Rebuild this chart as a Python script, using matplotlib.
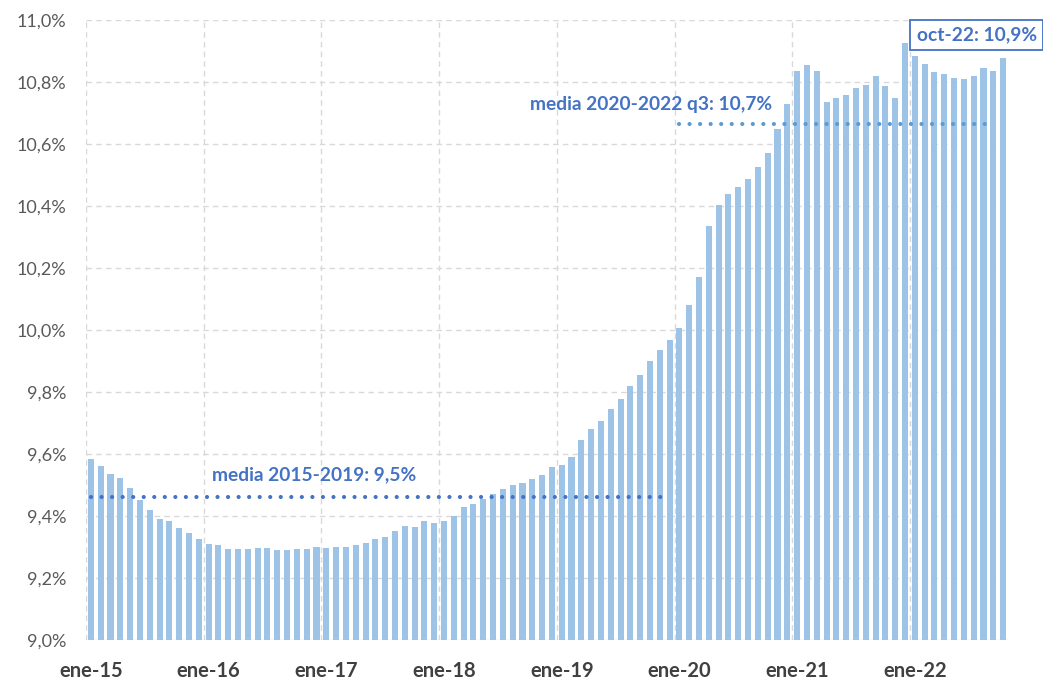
import matplotlib.pyplot as plt
import numpy as np

# ─────────────────────────────────────────────
# DATA  (monthly, ene-15 .. oct-22)
# ─────────────────────────────────────────────

values = [
    9.583, 9.561, 9.536, 9.523, 9.489, 9.452, 9.420, 9.391, 9.383, 9.360, 9.345, 9.327,   # 2015
    9.311, 9.305, 9.295, 9.295, 9.295, 9.297, 9.297, 9.291, 9.290, 9.295, 9.293, 9.299,   # 2016
    9.297, 9.300, 9.300, 9.305, 9.312, 9.325, 9.331, 9.352, 9.367, 9.365, 9.383, 9.378,   # 2017
    9.385, 9.401, 9.430, 9.440, 9.456, 9.470, 9.488, 9.501, 9.506, 9.520, 9.531, 9.559,   # 2018
    9.566, 9.590, 9.645, 9.681, 9.707, 9.746, 9.778, 9.819, 9.854, 9.901, 9.935, 9.969,   # 2019
    10.006, 10.082, 10.171, 10.336, 10.403, 10.440, 10.462, 10.486, 10.527, 10.570, 10.648, 10.730,  # 2020
    10.837, 10.855, 10.837, 10.736, 10.749, 10.759, 10.782, 10.790, 10.819, 10.786, 10.747, 10.927,  # 2021
    10.883, 10.859, 10.833, 10.825, 10.813, 10.810, 10.818, 10.846, 10.835, 10.878,               # 2022
]
year_labels = ["ene-15", "ene-16", "ene-17", "ene-18", "ene-19", "ene-20", "ene-21", "ene-22"]

mean_1519 = 9.462      # media 2015-2019
mean_2022 = 10.666     # media 2020-2022 q3
label_1519 = "media 2015-2019: 9,5%"
label_2022 = "media 2020-2022 q3: 10,7%"
label_last = "oct-22: 10,9%"

# ─────────────────────────────────────────────
# PLOT
# ─────────────────────────────────────────────

plt.rcParams["font.family"] = ["Lato", "DejaVu Sans"]

BAR = "#9DC3E6"
DARK = "#4472C4"
LIGHT = "#5B9BD5"
GRID = "#D9D9D9"
TXT = "#595959"

x = np.arange(len(values))

fig = plt.figure(figsize=(10.43, 6.82), dpi=100)
ax = fig.add_axes([86 / 1043, 1 - 640 / 682, 922 / 1043, 620 / 682])

ax.bar(x, np.array(values) - 9.0, bottom=9.0, width=0.62, color=BAR, zorder=2)

# grid
for yv in np.arange(9.2, 11.01, 0.2):
    ax.axhline(yv, color=GRID, lw=1, ls=(0, (4, 3)), zorder=1)
ax.axhline(9.0, color=GRID, lw=1, zorder=1)
for xv in np.arange(-0.5, len(values), 12):
    ax.axvline(xv, color=GRID, lw=1, ls=(0, (4, 3)), zorder=1)

# mean lines (round dots, ~10.5 px apart)
ax.plot(np.arange(0, 60), [mean_1519] * 60, color=DARK, lw=3.0,
        ls=(0, (0.01, 2.52)), dash_capstyle="round", zorder=3)
ax.plot(np.arange(60, 93), [mean_2022] * 33, color=LIGHT, lw=3.0,
        ls=(0, (0.01, 2.52)), dash_capstyle="round", zorder=3)

ax.text(12.3, mean_1519 + 0.072, label_1519, color=DARK, fontsize=13.8,
        fontweight="bold", va="center", ha="left", zorder=4)
ax.text(44.8, mean_2022 + 0.063, label_2022, color=DARK, fontsize=13.8,
        fontweight="bold", va="center", ha="left", zorder=4)
ax.text(len(values) - 3.7, 10.952, label_last, color=DARK, fontsize=13.8,
        fontweight="bold", va="center", ha="center", zorder=5,
        bbox=dict(boxstyle="square,pad=0.32", fc="white", ec=DARK, lw=1.3),
        clip_on=False)

ax.set_xlim(-0.5, len(values) - 0.5)
ax.set_ylim(9.0, 11.0)
ax.set_yticks(np.arange(9.0, 11.01, 0.2))
ax.set_yticklabels([f"{v:.1f}%".replace(".", ",") for v in np.arange(9.0, 11.01, 0.2)])
ax.set_xticks(np.arange(0, len(values), 12))
ax.set_xticklabels(year_labels, fontweight="bold")

ax.tick_params(axis="y", length=0, pad=14, labelsize=13, labelcolor=TXT)
ax.tick_params(axis="x", length=0, pad=15, labelsize=14.5, labelcolor="#404040")
for s in ax.spines.values():
    s.set_visible(False)

plt.savefig("out.png", dpi=100)
